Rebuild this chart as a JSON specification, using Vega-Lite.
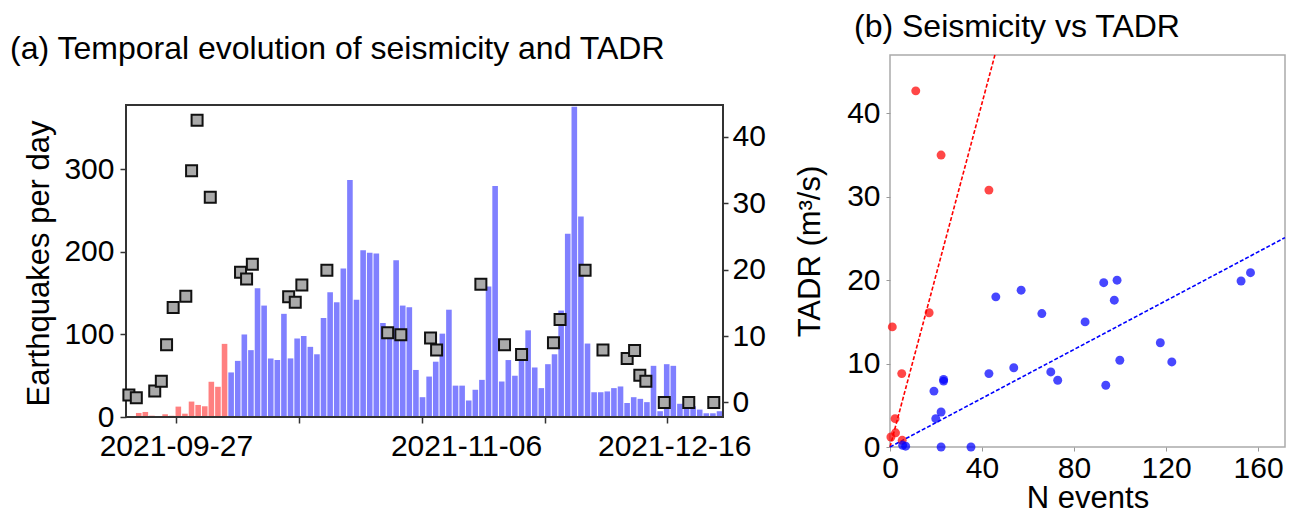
{
  "$schema": "https://vega.github.io/schema/vega-lite/v6.json",
  "padding": {"left": 10, "top": 10, "right": 4, "bottom": 0},
  "background": "white",
  "config": {
    "font": "Liberation Sans",
    "axis": {"grid": false, "domain": false, "labelFontSize": 30, "titleFontSize": 31, "titleFontWeight": "normal", "labelColor": "black", "titleColor": "black", "labelFlush": false, "labelOverlap": false}
  },
  "datasets": {
    "daily": [
      {"date": "2021/09/20", "n": 0, "phase": "pre"},
      {"date": "2021/09/21", "n": 4.9, "phase": "pre"},
      {"date": "2021/09/22", "n": 6.1, "phase": "pre"},
      {"date": "2021/09/23", "n": 1.6, "phase": "pre"},
      {"date": "2021/09/24", "n": 0.5, "phase": "pre"},
      {"date": "2021/09/25", "n": 3.3, "phase": "pre"},
      {"date": "2021/09/26", "n": 1.5, "phase": "pre"},
      {"date": "2021/09/27", "n": 12.6, "phase": "pre"},
      {"date": "2021/09/28", "n": 4, "phase": "pre"},
      {"date": "2021/09/29", "n": 18.7, "phase": "pre"},
      {"date": "2021/09/30", "n": 14.6, "phase": "pre"},
      {"date": "2021/10/01", "n": 13, "phase": "pre"},
      {"date": "2021/10/02", "n": 42.7, "phase": "pre"},
      {"date": "2021/10/03", "n": 36.6, "phase": "pre"},
      {"date": "2021/10/04", "n": 88.6, "phase": "pre"},
      {"date": "2021/10/05", "n": 54, "phase": "post"},
      {"date": "2021/10/06", "n": 68, "phase": "post"},
      {"date": "2021/10/07", "n": 100, "phase": "post"},
      {"date": "2021/10/08", "n": 81, "phase": "post"},
      {"date": "2021/10/09", "n": 156, "phase": "post"},
      {"date": "2021/10/10", "n": 135, "phase": "post"},
      {"date": "2021/10/11", "n": 71, "phase": "post"},
      {"date": "2021/10/12", "n": 69, "phase": "post"},
      {"date": "2021/10/13", "n": 125, "phase": "post"},
      {"date": "2021/10/14", "n": 71, "phase": "post"},
      {"date": "2021/10/15", "n": 95, "phase": "post"},
      {"date": "2021/10/16", "n": 98, "phase": "post"},
      {"date": "2021/10/17", "n": 85, "phase": "post"},
      {"date": "2021/10/18", "n": 76, "phase": "post"},
      {"date": "2021/10/19", "n": 120, "phase": "post"},
      {"date": "2021/10/20", "n": 151, "phase": "post"},
      {"date": "2021/10/21", "n": 139, "phase": "post"},
      {"date": "2021/10/22", "n": 180, "phase": "post"},
      {"date": "2021/10/23", "n": 287, "phase": "post"},
      {"date": "2021/10/24", "n": 142, "phase": "post"},
      {"date": "2021/10/25", "n": 202, "phase": "post"},
      {"date": "2021/10/26", "n": 199, "phase": "post"},
      {"date": "2021/10/27", "n": 198, "phase": "post"},
      {"date": "2021/10/28", "n": 114, "phase": "post"},
      {"date": "2021/10/29", "n": 105, "phase": "post"},
      {"date": "2021/10/30", "n": 190, "phase": "post"},
      {"date": "2021/10/31", "n": 135, "phase": "post"},
      {"date": "2021/11/01", "n": 133, "phase": "post"},
      {"date": "2021/11/02", "n": 57, "phase": "post"},
      {"date": "2021/11/03", "n": 24, "phase": "post"},
      {"date": "2021/11/04", "n": 49, "phase": "post"},
      {"date": "2021/11/05", "n": 67, "phase": "post"},
      {"date": "2021/11/06", "n": 101, "phase": "post"},
      {"date": "2021/11/07", "n": 130, "phase": "post"},
      {"date": "2021/11/08", "n": 38, "phase": "post"},
      {"date": "2021/11/09", "n": 38, "phase": "post"},
      {"date": "2021/11/10", "n": 20, "phase": "post"},
      {"date": "2021/11/11", "n": 33, "phase": "post"},
      {"date": "2021/11/12", "n": 45, "phase": "post"},
      {"date": "2021/11/13", "n": 158, "phase": "post"},
      {"date": "2021/11/14", "n": 280, "phase": "post"},
      {"date": "2021/11/15", "n": 43, "phase": "post"},
      {"date": "2021/11/16", "n": 69, "phase": "post"},
      {"date": "2021/11/17", "n": 50, "phase": "post"},
      {"date": "2021/11/18", "n": 76, "phase": "post"},
      {"date": "2021/11/19", "n": 105, "phase": "post"},
      {"date": "2021/11/20", "n": 60, "phase": "post"},
      {"date": "2021/11/21", "n": 35, "phase": "post"},
      {"date": "2021/11/22", "n": 64, "phase": "post"},
      {"date": "2021/11/23", "n": 76, "phase": "post"},
      {"date": "2021/11/24", "n": 129, "phase": "post"},
      {"date": "2021/11/25", "n": 222, "phase": "post"},
      {"date": "2021/11/26", "n": 376, "phase": "post"},
      {"date": "2021/11/27", "n": 243, "phase": "post"},
      {"date": "2021/11/28", "n": 89, "phase": "post"},
      {"date": "2021/11/29", "n": 30, "phase": "post"},
      {"date": "2021/11/30", "n": 30, "phase": "post"},
      {"date": "2021/12/01", "n": 31, "phase": "post"},
      {"date": "2021/12/02", "n": 35, "phase": "post"},
      {"date": "2021/12/03", "n": 37, "phase": "post"},
      {"date": "2021/12/04", "n": 17, "phase": "post"},
      {"date": "2021/12/05", "n": 24, "phase": "post"},
      {"date": "2021/12/06", "n": 22, "phase": "post"},
      {"date": "2021/12/07", "n": 18, "phase": "post"},
      {"date": "2021/12/08", "n": 62, "phase": "post"},
      {"date": "2021/12/09", "n": 7, "phase": "post"},
      {"date": "2021/12/10", "n": 64, "phase": "post"},
      {"date": "2021/12/11", "n": 62, "phase": "post"},
      {"date": "2021/12/12", "n": 16, "phase": "post"},
      {"date": "2021/12/13", "n": 15, "phase": "post"},
      {"date": "2021/12/14", "n": 13, "phase": "post"},
      {"date": "2021/12/15", "n": 9, "phase": "post"},
      {"date": "2021/12/16", "n": 4.5, "phase": "post"},
      {"date": "2021/12/17", "n": 4.5, "phase": "post"},
      {"date": "2021/12/18", "n": 7, "phase": "post"}
    ],
    "tadr": [
      {"time": "2021/09/20 02:00", "tadr": 1.1},
      {"time": "2021/09/21 05:00", "tadr": 0.7},
      {"time": "2021/09/24 00:00", "tadr": 1.7},
      {"time": "2021/09/25 00:00", "tadr": 3.2},
      {"time": "2021/09/25 19:00", "tadr": 8.7},
      {"time": "2021/09/26 19:00", "tadr": 14.3},
      {"time": "2021/09/28 17:00", "tadr": 16.0},
      {"time": "2021/09/29 14:00", "tadr": 34.9},
      {"time": "2021/09/30 10:00", "tadr": 42.5},
      {"time": "2021/10/02 10:00", "tadr": 30.9},
      {"time": "2021/10/07 00:00", "tadr": 19.6},
      {"time": "2021/10/07 22:00", "tadr": 18.6},
      {"time": "2021/10/08 19:00", "tadr": 20.8},
      {"time": "2021/10/14 07:00", "tadr": 15.9},
      {"time": "2021/10/15 07:00", "tadr": 15.1},
      {"time": "2021/10/16 07:00", "tadr": 17.7},
      {"time": "2021/10/20 02:00", "tadr": 19.9},
      {"time": "2021/10/29 07:00", "tadr": 10.5},
      {"time": "2021/10/31 07:00", "tadr": 10.2},
      {"time": "2021/11/04 19:00", "tadr": 9.7},
      {"time": "2021/11/05 17:00", "tadr": 7.9},
      {"time": "2021/11/12 10:00", "tadr": 17.8},
      {"time": "2021/11/16 00:00", "tadr": 8.7},
      {"time": "2021/11/18 14:00", "tadr": 7.2},
      {"time": "2021/11/23 10:00", "tadr": 9.0},
      {"time": "2021/11/24 10:00", "tadr": 12.5},
      {"time": "2021/11/28 05:00", "tadr": 19.9},
      {"time": "2021/11/30 22:00", "tadr": 7.9},
      {"time": "2021/12/04 14:00", "tadr": 6.6},
      {"time": "2021/12/05 17:00", "tadr": 7.8},
      {"time": "2021/12/06 12:00", "tadr": 4.1},
      {"time": "2021/12/07 10:00", "tadr": 3.2},
      {"time": "2021/12/10 05:00", "tadr": 0},
      {"time": "2021/12/13 22:00", "tadr": 0},
      {"time": "2021/12/17 17:00", "tadr": 0}
    ],
    "scatter": [
      {"nev": 11.2, "tadr": 42.7, "grp": "red"},
      {"nev": 22.2, "tadr": 35.0, "grp": "red"},
      {"nev": 43, "tadr": 30.8, "grp": "red"},
      {"nev": 17, "tadr": 16.1, "grp": "red"},
      {"nev": 1, "tadr": 14.4, "grp": "red"},
      {"nev": 5.1, "tadr": 8.8, "grp": "red"},
      {"nev": 2.2, "tadr": 3.4, "grp": "red"},
      {"nev": 2.4, "tadr": 1.7, "grp": "red"},
      {"nev": 0.4, "tadr": 1.2, "grp": "red"},
      {"nev": 5.3, "tadr": 0.8, "grp": "red"},
      {"nev": 6.8, "tadr": 0.1, "grp": "blue"},
      {"nev": 5.5, "tadr": 0.2, "grp": "blue"},
      {"nev": 22.2, "tadr": 0, "grp": "blue"},
      {"nev": 35.2, "tadr": 0, "grp": "blue"},
      {"nev": 19.9, "tadr": 3.4, "grp": "blue"},
      {"nev": 22.2, "tadr": 4.2, "grp": "blue"},
      {"nev": 19.1, "tadr": 6.7, "grp": "blue"},
      {"nev": 23.3, "tadr": 8.1, "grp": "blue"},
      {"nev": 23.3, "tadr": 7.9, "grp": "blue"},
      {"nev": 43, "tadr": 8.8, "grp": "blue"},
      {"nev": 46, "tadr": 18, "grp": "blue"},
      {"nev": 57, "tadr": 18.8, "grp": "blue"},
      {"nev": 53.8, "tadr": 9.5, "grp": "blue"},
      {"nev": 66, "tadr": 16, "grp": "blue"},
      {"nev": 69.9, "tadr": 9, "grp": "blue"},
      {"nev": 72.9, "tadr": 8, "grp": "blue"},
      {"nev": 84.8, "tadr": 15, "grp": "blue"},
      {"nev": 92.9, "tadr": 19.7, "grp": "blue"},
      {"nev": 98.7, "tadr": 20, "grp": "blue"},
      {"nev": 97.5, "tadr": 17.6, "grp": "blue"},
      {"nev": 93.8, "tadr": 7.4, "grp": "blue"},
      {"nev": 99.9, "tadr": 10.4, "grp": "blue"},
      {"nev": 117.5, "tadr": 12.5, "grp": "blue"},
      {"nev": 122.5, "tadr": 10.2, "grp": "blue"},
      {"nev": 152.6, "tadr": 19.9, "grp": "blue"},
      {"nev": 156.7, "tadr": 20.9, "grp": "blue"}
    ],
    "fits": [
      {"nev": 0, "tadr": 0, "grp": "red"},
      {"nev": 45.6, "tadr": 47, "grp": "red"},
      {"nev": 0, "tadr": 0, "grp": "blue"},
      {"nev": 171.7, "tadr": 25.1, "grp": "blue"}
    ]
  },
  "spacing": 27,
  "resolve": {"scale": {"color": "independent"}},
  "hconcat": [
    {
      "width": 597,
      "height": 362,
      "view": {"stroke": null},
      "title": {"text": "(a) Temporal evolution of seismicity and TADR", "fontSize": 32, "fontWeight": "normal", "anchor": "start", "frame": "group", "dx": -116, "offset": 0, "dy": 11, "color": "black"},
      "layer": [
        {
          "layer": [
            {
              "data": {"name": "daily"},
              "mark": {"type": "bar", "opacity": 1},
              "encoding": {
                "x": {"field": "date", "type": "temporal", "timeUnit": "yearmonthdate",
                  "scale": {"domain": [{"year": 2021, "month": 9, "date": 19, "hours": 15, "minutes": 30}, {"year": 2021, "month": 12, "date": 19, "hours": 2, "minutes": 30}]},
                  "axis": {"title": null, "values": [
                    {"year": 2021, "month": 9, "date": 27, "hours": 5},
                    {"year": 2021, "month": 10, "date": 15, "hours": 19},
                    {"year": 2021, "month": 11, "date": 3, "hours": 12},
                    {"year": 2021, "month": 11, "date": 10, "hours": 4},
                    {"year": 2021, "month": 11, "date": 22, "hours": 5},
                    {"year": 2021, "month": 12, "date": 10, "hours": 14},
                    {"year": 2021, "month": 12, "date": 11, "hours": 17}
                  ],
                  "labelExpr": "date(datum.value)==27 ? '2021-09-27' : hours(datum.value)==4 ? '2021-11-06' : hours(datum.value)==17 ? '2021-12-16' : ''",
                  "tickOpacity": {"condition": {"test": "hours(datum.value)==4 || hours(datum.value)==17", "value": 0}, "value": 1},
                  "tickColor": "#333333", "tickSize": 6, "tickWidth": 1.5, "labelPadding": 8}},
                "y": {"field": "n", "type": "quantitative", "scale": {"domain": [0, 438.6], "nice": false},
                  "axis": {"title": "Earthquakes per day", "titleY": 208, "values": [0, 100, 200, 300], "tickColor": "#333333", "tickSize": 6, "tickWidth": 1.5, "labelPadding": 6, "titlePadding": 8}},
                "color": {"field": "phase", "type": "nominal", "scale": {"domain": ["pre", "post"], "range": ["#ff8080", "#8080ff"]}, "legend": null}
              }
            },
            {
              "data": {"values": [{}]},
              "mark": {"type": "rect", "fill": null, "stroke": "#333333", "strokeWidth": 2},
              "encoding": {
                "x": {"datum": {"year": 2021, "month": 9, "date": 19, "hours": 15, "minutes": 30}, "type": "temporal"},
                "x2": {"datum": {"year": 2021, "month": 12, "date": 19, "hours": 2, "minutes": 30}},
                "y": {"datum": 0, "type": "quantitative"},
                "y2": {"datum": 378}
              }
            }
          ]
        },
        {
          "data": {"name": "tadr"},
          "mark": {"type": "square", "size": 121, "fill": "#aaaaaa", "stroke": "#111111", "strokeWidth": 2, "opacity": 1},
          "encoding": {
            "x": {"field": "time", "type": "temporal"},
            "y": {"field": "tadr", "type": "quantitative", "scale": {"domain": [-2.2, 52.33], "nice": false, "zero": false},
              "axis": {"orient": "right", "title": null, "values": [0, 10, 20, 30, 40], "tickColor": "#333333", "tickSize": 5, "tickWidth": 1.5, "labelPadding": 4}}
          }
        }
      ],
      "resolve": {"scale": {"y": "independent"}}
    },
    {
      "width": 395,
      "height": 392,
      "view": {"stroke": "#aaaaaa", "strokeWidth": 1.5},
      "title": {"text": "(b) Seismicity vs TADR", "fontSize": 32, "fontWeight": "normal", "anchor": "start", "frame": "group", "dx": -36, "offset": 8, "color": "black"},
      "layer": [
        {
          "data": {"name": "fits"},
          "mark": {"type": "line", "strokeDash": [4, 2], "strokeWidth": 1.6},
          "encoding": {
            "x": {"field": "nev", "type": "quantitative", "scale": {"domain": [0, 171.7], "nice": false},
              "axis": {"title": "N events", "values": [0, 40, 80, 120, 160], "tickColor": "#999999", "tickSize": 4, "labelPadding": 2, "titlePadding": 0}},
            "y": {"field": "tadr", "type": "quantitative", "scale": {"domain": [0, 47], "nice": false},
              "axis": {"title": "TADR (m³/s)", "values": [0, 10, 20, 30, 40], "tickColor": "#999999", "tickSize": 4, "labelPadding": 6, "titlePadding": 20}},
            "color": {"field": "grp", "type": "nominal", "scale": {"domain": ["red", "blue"], "range": ["#ff0000", "#0000ff"]}, "legend": null},
            "detail": {"field": "grp"}
          }
        },
        {
          "data": {"name": "scatter"},
          "mark": {"type": "circle", "size": 80, "opacity": 0.72},
          "encoding": {
            "x": {"field": "nev", "type": "quantitative"},
            "y": {"field": "tadr", "type": "quantitative"},
            "color": {"field": "grp", "type": "nominal", "legend": null}
          }
        }
      ]
    }
  ]
}
